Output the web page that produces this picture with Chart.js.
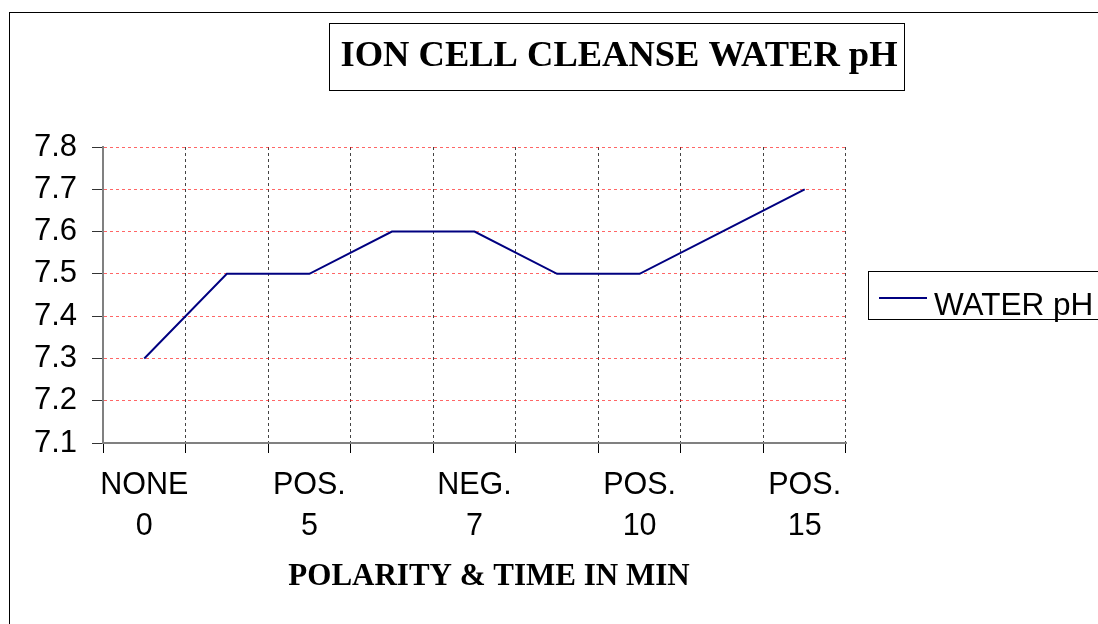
<!DOCTYPE html>
<html lang="en">
<head>
  <meta charset="UTF-8" />
  <title>ION CELL CLEANSE WATER pH</title>
  <script src="https://cdn.jsdelivr.net/npm/chart.js"></script>
  <style>
    html, body { margin: 0; padding: 0; background: #fff; overflow: hidden; }
    canvas { display: block; }
  </style>
</head>
<body>
  <canvas id="phChart" width="1098" height="624"></canvas>

  <script>
    const chartTitle = 'ION CELL CLEANSE WATER pH';
    const xAxisTitle = 'POLARITY & TIME IN MIN';
    const seriesName = 'WATER pH';

    // only every other category carries a label in the original sheet
    const categories = [['NONE', '0'], '', ['POS.', '5'], '', ['NEG.', '7'], '', ['POS.', '10'], '', ['POS.', '15']];
    const phValues = [7.3, 7.5, 7.5, 7.6, 7.6, 7.5, 7.5, 7.6, 7.7];
    const yTickValues = [7.1, 7.2, 7.3, 7.4, 7.5, 7.6, 7.7, 7.8];

    const sans = "'Liberation Sans', Arial, sans-serif";
    const serif = "'Liberation Serif', 'Times New Roman', serif";

    // outer frame, boxed title, axis title and boxed legend (Excel style)
    const excelFrame = {
      id: 'excelFrame',
      afterDraw(chart) {
        const ctx = chart.ctx;
        const area = chart.chartArea;
        ctx.save();
        ctx.strokeStyle = '#000';
        ctx.lineWidth = 1;
        ctx.strokeRect(9.5, 12.5, 2000, 2000);

        // title box
        ctx.font = 'bold 36.5px ' + serif;
        ctx.fillStyle = '#000';
        ctx.textAlign = 'center';
        ctx.textBaseline = 'alphabetic';
        ctx.fillText(chartTitle, 619, 66);
        ctx.strokeRect(329.5, 23.5, 575, 67);

        // x axis title sits a little right of the plot centre in the original
        ctx.font = 'bold 31px ' + serif;
        ctx.fillText(xAxisTitle, 489, 585);

        // legend box
        const lx = area.right + 22;
        const ly = 271;
        ctx.strokeRect(lx + 0.5, ly + 0.5, 400, 48);
        const ds = chart.data.datasets[0];
        ctx.strokeStyle = ds.borderColor;
        ctx.lineWidth = 2;
        ctx.beginPath();
        ctx.moveTo(lx + 11, ly + 27);
        ctx.lineTo(lx + 59, ly + 27);
        ctx.stroke();
        ctx.font = '31.5px ' + sans;
        ctx.textAlign = 'left';
        ctx.fillText(ds.label, lx + 66, ly + 44);
        ctx.restore();
      }
    };

    const ctx = document.getElementById('phChart').getContext('2d');

    new Chart(ctx, {
      type: 'line',
      data: {
        labels: categories,
        datasets: [{
          label: seriesName,
          data: phValues,
          borderColor: '#000080',
          backgroundColor: '#000080',
          borderWidth: 2,
          pointRadius: 0,
          tension: 0,
          fill: false
        }]
      },
      options: {
        responsive: false,
        animation: false,
        layout: {
          padding: { left: 0, top: 147, right: 252, bottom: 0 }
        },
        plugins: {
          legend: { display: false },
          title: { display: false },
          tooltip: { enabled: false }
        },
        scales: {
          x: {
            offset: true,
            afterFit: scale => { scale.height = 181; },
            grid: {
              offset: true,
              color: '#444',
              lineWidth: 1,
              tickLength: 10,
              tickColor: '#000',
              tickBorderDash: []
            },
            border: { color: '#808080', width: 2, dash: [3, 3] },
            ticks: {
              autoSkip: false,
              maxRotation: 0,
              padding: 12,
              color: '#000',
              font: { family: sans, size: 30.5, lineHeight: 1.35 }
            }
          },
          y: {
            min: 7.1,
            max: 7.8,
            afterFit: scale => { scale.width = 103; },
            afterBuildTicks: axis => { axis.ticks = yTickValues.map(v => ({ value: v })); },
            grid: {
              color: 'rgba(255,0,0,0.6)',
              lineWidth: 1,
              tickLength: 11,
              tickColor: '#333',
              tickBorderDash: []
            },
            border: { color: '#808080', width: 2, dash: [3, 3] },
            ticks: {
              padding: 15,
              color: '#000',
              font: { family: sans, size: 31 },
              callback: v => Number(v).toFixed(1)
            }
          }
        }
      },
      plugins: [excelFrame]
    });
  </script>
</body>
</html>
